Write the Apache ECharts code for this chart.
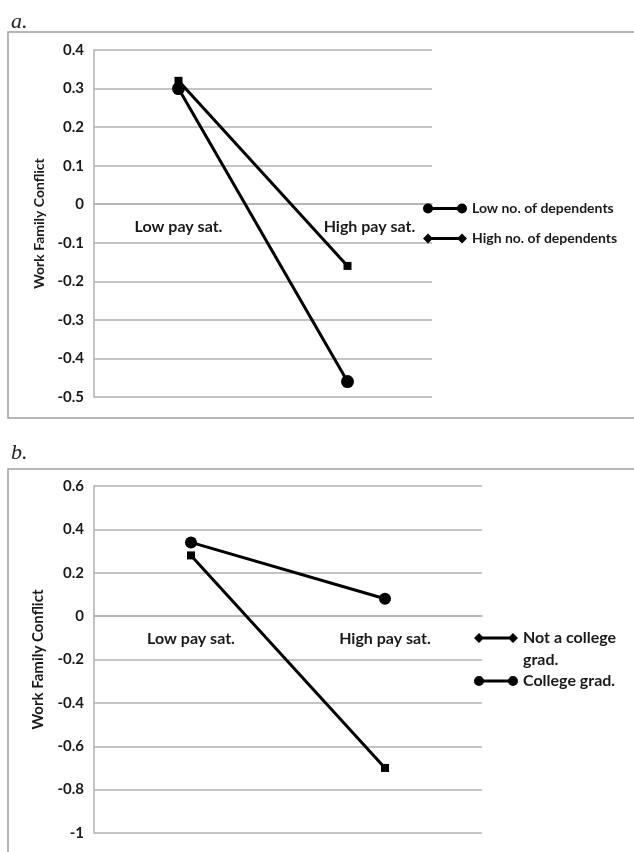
<!DOCTYPE html>
<html>
<head>
<meta charset="utf-8">
<script src="https://cdn.jsdelivr.net/npm/echarts@6/dist/echarts.min.js"></script>
<style>
  html, body { margin: 0; padding: 0; background: #fff; }
  #chart { width: 634px; height: 852px; }
</style>
</head>
<body>
<div id="chart"></div>
<script>
const categories = ['Low pay sat.', 'High pay sat.']

// panel a
const lowDependents = [0.30, -0.46]
const highDependents = [0.32, -0.16]
const ticksA = [-0.5, -0.4, -0.3, -0.2, -0.1, 0, 0.1, 0.2, 0.3, 0.4]

// panel b
const notCollegeGrad = [0.28, -0.70]
const collegeGrad = [0.34, 0.08]
const ticksB = [-1, -0.8, -0.6, -0.4, -0.2, 0, 0.2, 0.4, 0.6]

const FONT = 'Lato'
const GRID_COLOR = '#b0b0b0'
const TEXT_COLOR = '#1a1a1a'
const H = 852

// legend icons: line with a marker at each end
const circleIcon = 'path://M0,5 A5,5 0 1,1 10,5 A5,5 0 1,1 0,5 Z M34,5 A5,5 0 1,1 44,5 A5,5 0 1,1 34,5 Z M5,3.5 L39,3.5 L39,6.5 L5,6.5 Z'
const diamondIcon = 'path://M0,5 L5,0 L10,5 L5,10 Z M34,5 L39,0 L44,5 L39,10 Z M5,3.5 L39,3.5 L39,6.5 L5,6.5 Z'

const gridA = { left: 94, right: 202, top: 50, bottom: 455 }
const gridB = { left: 94, right: 152, top: 486, bottom: 19 }

const step = ticks => Math.round((ticks[1] - ticks[0]) * 10) / 10

// category axis sits on the zero line (Excel style)
const zeroOffset = (grid, ticks) => {
  const h = H - grid.top - grid.bottom
  const lo = ticks[0], hi = ticks[ticks.length - 1]
  return -h * (0 - lo) / (hi - lo)
}

const makeX = (gridIndex, labelData, offset) => ({
  type: 'category',
  gridIndex,
  data: labelData,
  boundaryGap: true,
  offset,
  axisLine: { onZero: false, lineStyle: { color: GRID_COLOR, width: 1.5 } },
  axisTick: { show: false },
  axisLabel: { color: TEXT_COLOR, fontFamily: FONT, fontWeight: 'bold', fontSize: 16, margin: 15 },
  splitLine: { show: false }
})

const makeY = (gridIndex, ticks, nameSize) => ({
  type: 'value',
  gridIndex,
  min: ticks[0],
  max: ticks[ticks.length - 1],
  interval: step(ticks),
  name: 'Work Family Conflict',
  nameLocation: 'middle',
  nameGap: 48,
  nameTextStyle: { color: TEXT_COLOR, fontFamily: FONT, fontWeight: 'bold', fontSize: nameSize },
  axisLine: { show: true, lineStyle: { color: GRID_COLOR, width: 1.5 } },
  axisTick: { show: false },
  axisLabel: { color: TEXT_COLOR, fontFamily: FONT, fontWeight: 'bold', fontSize: 15, margin: 10 },
  splitLine: { show: true, lineStyle: { color: GRID_COLOR, width: 1.5 } }
})

const lineSeries = (name, data, axisIndex, symbol, symbolSize) => ({
  name,
  type: 'line',
  xAxisIndex: axisIndex,
  yAxisIndex: axisIndex,
  data,
  symbol,
  symbolSize,
  color: '#000',
  lineStyle: { color: '#000', width: 3 },
  itemStyle: { color: '#000' },
  animation: false
})

const chart = echarts.init(document.getElementById('chart'))

chart.setOption({
  animation: false,
  title: [
    { text: 'a.', left: 6, top: 6, textStyle: { fontFamily: 'Liberation Serif', fontStyle: 'italic', fontWeight: 'normal', fontSize: 22, color: '#222' } },
    { text: 'b.', left: 6, top: 437, textStyle: { fontFamily: 'Liberation Serif', fontStyle: 'italic', fontWeight: 'normal', fontSize: 22, color: '#222' } }
  ],
  graphic: [
    { type: 'rect', shape: { x: 8, y: 32, width: 640, height: 386 }, style: { fill: 'none', stroke: '#a0a0a0', lineWidth: 1.5 }, silent: true },
    { type: 'rect', shape: { x: 8, y: 469, width: 640, height: 400 }, style: { fill: 'none', stroke: '#a0a0a0', lineWidth: 1.5 }, silent: true }
  ],
  grid: [gridA, gridB],
  xAxis: [
    makeX(0, [categories[0], { value: categories[1], textStyle: { padding: [0, 0, 0, 44] } }], zeroOffset(gridA, ticksA)),
    makeX(1, categories, zeroOffset(gridB, ticksB))
  ],
  yAxis: [
    makeY(0, ticksA, 14),
    makeY(1, ticksB, 15)
  ],
  legend: [
    {
      orient: 'vertical',
      left: 418,
      top: 196,
      itemWidth: 44,
      itemHeight: 10,
      itemGap: 15,
      textStyle: { color: TEXT_COLOR, fontFamily: FONT, fontWeight: 'bold', fontSize: 14, lineHeight: 15 },
      data: [
        { name: 'Low no. of dependents', icon: circleIcon },
        { name: 'High no. of dependents', icon: diamondIcon }
      ]
    },
    {
      orient: 'vertical',
      left: 469,
      top: 600,
      itemWidth: 44,
      itemHeight: 10,
      itemGap: -1,
      textStyle: { color: TEXT_COLOR, fontFamily: FONT, fontWeight: 'bold', fontSize: 16, lineHeight: 22 },
      // leading blank line keeps the first line level with the icon
      formatter: name => name === 'Not a college grad.' ? '\nNot a college\ngrad.' : name,
      data: [
        { name: 'Not a college grad.', icon: diamondIcon },
        { name: 'College grad.', icon: circleIcon }
      ]
    }
  ],
  series: [
    lineSeries('Low no. of dependents', lowDependents, 0, 'circle', 13),
    lineSeries('High no. of dependents', highDependents, 0, 'rect', 8),
    lineSeries('Not a college grad.', notCollegeGrad, 1, 'rect', 8),
    lineSeries('College grad.', collegeGrad, 1, 'circle', 12)
  ]
})
</script>
</body>
</html>
